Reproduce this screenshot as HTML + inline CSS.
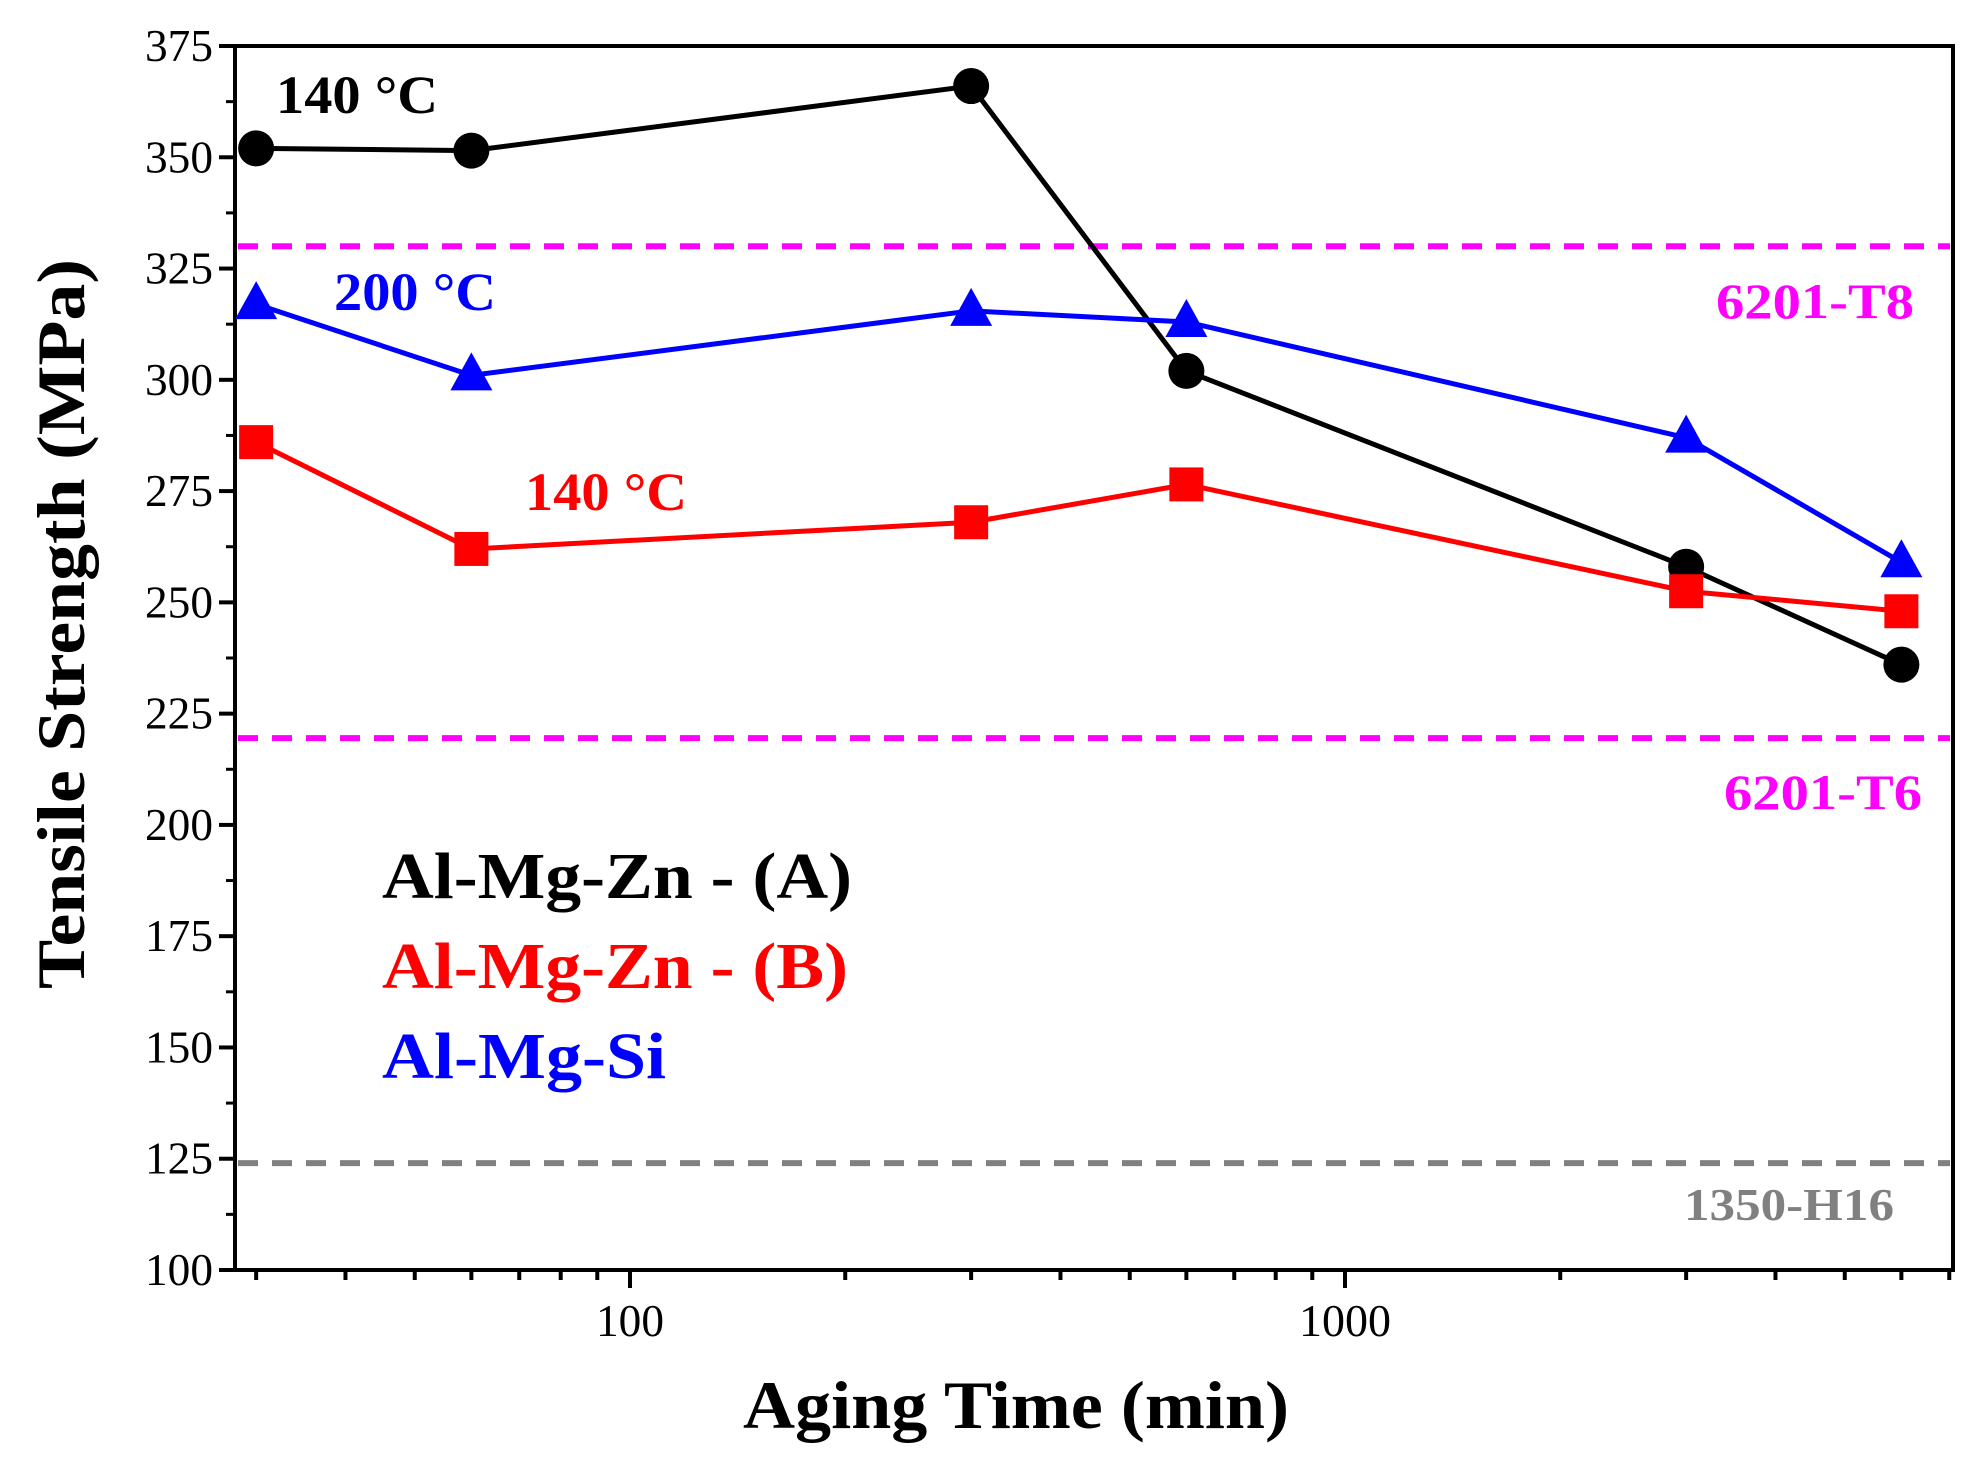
<!DOCTYPE html>
<html><head><meta charset="utf-8"><style>
html,body{margin:0;padding:0;background:#fff}
svg{display:block}
text{font-family:"Liberation Serif","Times New Roman",serif;font-weight:bold}
</style></head><body>
<svg id="chart" width="1975" height="1459" viewBox="0 0 1975 1459">
</svg>
<script>
const times = [30, 60, 300, 600, 3000, 6000];
const seriesA = [352, 351.5, 366, 302, 258, 236];
const seriesB = [286, 262, 268, 276.5, 252.5, 248];
const seriesSi = [317, 301, 315.5, 313, 287, 259];
const refValues = [330, 219.5, 124];
const refLabels = ["6201-T8", "6201-T6", "1350-H16"];
const yTicks = [100, 125, 150, 175, 200, 225, 250, 275, 300, 325, 350, 375];
const xTickLabels = [100, 1000];

const L = 235, R = 1953, T = 46, B = 1270;
function xs(v){ return 630 + (Math.log10(v) - 2) * 715; }
function ys(v){ return B - (v - 100) / 275 * (B - T); }
const NS = "http://www.w3.org/2000/svg";
const svg = document.getElementById('chart');
function mk(tag, attrs, parent){ const e = document.createElementNS(NS, tag); for (const k in attrs) e.setAttribute(k, attrs[k]); (parent||svg).appendChild(e); return e; }

const refColors = ["#ff00ff", "#ff00ff", "#808080"];
refValues.forEach((v, i) => {
  const ln = mk('line', {x1: L+3, x2: R-3, y1: ys(v), y2: ys(v), stroke: refColors[i], 'stroke-width': 6, 'stroke-dasharray': '20 14'});
  
  
});

const box = mk('rect', {x: L, y: T, width: R-L, height: B-T, fill: 'none', stroke: '#000', 'stroke-width': 4});



yTicks.forEach(v => {
  mk('line', {x1: L-16, x2: L, y1: ys(v), y2: ys(v), stroke: '#000', 'stroke-width': 4});
  const t = mk('text', {x: L-22, y: ys(v)+15, 'text-anchor': 'end', 'font-size': 46, textLength: 68, lengthAdjust: 'spacingAndGlyphs'});
  t.style.fontWeight = 'normal';
  t.textContent = v;
  
  
  if (v < 375) mk('line', {x1: L-9, x2: L, y1: ys(v+12.5), y2: ys(v+12.5), stroke: '#000', 'stroke-width': 3});
});
for (let d = 10; d <= 1000; d *= 10) {
  for (let m = 1; m <= 9; m++) {
    const v = d * m; const x = xs(v);
    if (x < L || x > R) continue;
    const major = (m === 1);
    mk('line', {x1: x, x2: x, y1: B, y2: B + (major ? 18 : 10), stroke: '#000', 'stroke-width': 4});
  }
}
xTickLabels.forEach(v => {
  const t = mk('text', {x: xs(v), y: B + 66, 'text-anchor': 'middle', 'font-size': 46, textLength: v === 100 ? 68 : 92, lengthAdjust: 'spacingAndGlyphs'});
  t.style.fontWeight = 'normal';
  t.textContent = v;
  
  
});

function drawSeries(vals, color, marker, name){
  const g = mk('g', {});
  
  
  const pts = times.map((t, i) => xs(t) + ',' + ys(vals[i])).join(' ');
  mk('polyline', {points: pts, fill: 'none', stroke: color, 'stroke-width': 5}, g);
  times.forEach((t, i) => {
    const x = xs(t), y = ys(vals[i]);
    let m;
    if (marker === 'circle') m = mk('circle', {cx: x, cy: y, r: 18, fill: color}, g);
    else if (marker === 'square') m = mk('rect', {x: x-17, y: y-17, width: 34, height: 34, fill: color}, g);
    else m = mk('polygon', {points: `${x},${y-23} ${x+21},${y+15} ${x-21},${y+15}`, fill: color}, g);
    
    
  });
}
drawSeries(seriesA, '#000000', 'circle', 'series-al-mg-zn-a');
drawSeries(seriesB, '#ff0000', 'square', 'series-al-mg-zn-b');
drawSeries(seriesSi, '#0000ff', 'triangle', 'series-al-mg-si');

svg.insertAdjacentHTML('beforeend', `
<text x="276" y="113" font-size="54" fill="#000" textLength="162" lengthAdjust="spacingAndGlyphs">140 °C</text>
<text x="334" y="310" font-size="54" fill="#0000ff" textLength="162" lengthAdjust="spacingAndGlyphs">200 °C</text>
<text x="525" y="510" font-size="54" fill="#ff0000" textLength="162" lengthAdjust="spacingAndGlyphs">140 °C</text>
<text x="1716" y="318" font-size="50" fill="#ff00ff" textLength="198" lengthAdjust="spacingAndGlyphs">6201-T8</text>
<text x="1724" y="809" font-size="50" fill="#ff00ff" textLength="198" lengthAdjust="spacingAndGlyphs">6201-T6</text>
<text x="1684" y="1220" font-size="46" fill="#808080" textLength="210" lengthAdjust="spacingAndGlyphs">1350-H16</text>
<text x="382" y="898" font-size="66" fill="#000" textLength="470" lengthAdjust="spacingAndGlyphs">Al-Mg-Zn - (A)</text>
<text x="382" y="988" font-size="66" fill="#ff0000" textLength="466" lengthAdjust="spacingAndGlyphs">Al-Mg-Zn - (B)</text>
<text x="382" y="1078" font-size="66" fill="#0000ff" textLength="284" lengthAdjust="spacingAndGlyphs">Al-Mg-Si</text>
<text x="1016" y="1428" font-size="68" fill="#000" text-anchor="middle" textLength="546" lengthAdjust="spacingAndGlyphs">Aging Time (min)</text>
<text transform="translate(84,624) rotate(-90)" font-size="68" fill="#000" text-anchor="middle" textLength="730" lengthAdjust="spacingAndGlyphs">Tensile Strength (MPa)</text>
`);
</script>
</body></html>
